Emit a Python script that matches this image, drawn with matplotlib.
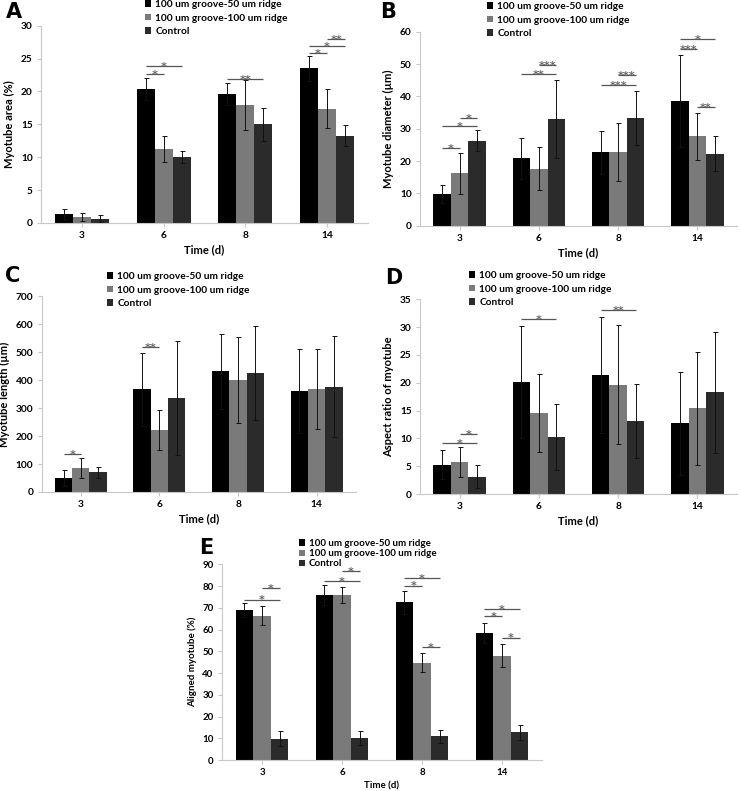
import numpy as np
import matplotlib
matplotlib.use("Agg")
import matplotlib.pyplot as plt

plt.rcParams['font.family'] = ['Lato', 'DejaVu Sans']
plt.rcParams['font.weight'] = 'bold'

days = ['3', '6', '8', '14']
series = ['100 um groove-50 um ridge', '100 um groove-100 um ridge', 'Control']
colors = ['#000000', '#7a7a7a', '#2b2b2b']

# A - myotube area (%)
area_mean = [[1.3, 20.4, 19.6, 23.5], [0.9, 11.3, 17.9, 17.4], [0.66, 10.0, 15.0, 13.25]]
area_err = [[0.8, 1.7, 1.7, 1.9], [0.6, 2.0, 3.8, 2.9], [0.55, 0.9, 2.5, 1.6]]
area_sig = [(1, 0, 1, 22.6, '*'), (1, 0, 2, 23.9, '*'), (2, 0, 2, 21.9, '**'),
            (3, 0, 1, 25.8, '*'), (3, 0, 2, 26.9, '*'), (3, 1, 2, 28.0, '**')]

# B - myotube diameter
diam_mean = [[9.7, 20.8, 22.7, 38.5], [16.2, 17.6, 22.7, 27.6], [26.3, 33.0, 33.4, 22.3]]
diam_err = [[2.8, 6.4, 6.7, 14.3], [6.3, 6.7, 9.0, 7.4], [3.2, 12.2, 8.4, 5.5]]
diam_sig = [(0, 0, 1, 24.0, '*'), (0, 0, 2, 30.8, '*'), (0, 1, 2, 33.4, '*'),
            (1, 0, 2, 46.9, '**'), (1, 1, 2, 49.6, '***'),
            (2, 0, 2, 43.5, '***'), (2, 1, 2, 46.6, '***'),
            (3, 0, 1, 54.7, '***'), (3, 0, 2, 57.7, '*'), (3, 1, 2, 36.6, '**')]

# C - myotube length
len_mean = [[51, 367, 432, 361], [87, 222, 401, 368], [70, 336, 426, 377]]
len_err = [[29, 130, 134, 149], [36, 71, 153, 142], [21, 205, 167, 182]]
len_sig = [(0, 0, 1, 136, '*'), (1, 0, 1, 520, '**')]

# D - aspect ratio
ar_mean = [[5.3, 20.1, 21.4, 12.7], [5.75, 14.5, 19.65, 15.4], [3.1, 10.2, 13.1, 18.3]]
ar_err = [[2.6, 10.1, 10.4, 9.3], [2.65, 7.0, 10.75, 10.1], [2.1, 5.9, 6.6, 10.9]]
ar_sig = [(0, 0, 2, 9.2, '*'), (0, 1, 2, 10.7, '*'), (1, 0, 2, 31.5, '*'), (2, 0, 2, 33.0, '**')]

# E - aligned myotube (%)
al_mean = [[69.0, 75.8, 72.5, 58.4], [66.4, 75.8, 44.8, 48.0], [9.8, 10.1, 11.0, 12.7]]
al_err = [[3.4, 4.7, 5.3, 4.8], [4.3, 3.6, 4.3, 5.2], [3.4, 3.1, 3.0, 3.6]]
al_sig = [(0, 0, 2, 73.8, '*'), (0, 1, 2, 79.0, '*'), (1, 0, 2, 82.1, '*'), (1, 1, 2, 86.8, '*'),
          (2, 0, 1, 80.2, '*'), (2, 0, 2, 83.6, '*'), (2, 1, 2, 52.0, '*'),
          (3, 0, 1, 66.3, '*'), (3, 0, 2, 69.5, '*'), (3, 1, 2, 56.3, '*')]

W, H = 741, 791
fig = plt.figure(figsize=(W / 100, H / 100), dpi=100)
bw = 0.22


def px(l, r, b, t):
    return [l / W, 1 - b / H, (r - l) / W, (b - t) / H]


def panel(box, means, errs, ymax, step, ylabel, sigs, letter, letter_xy, leg_xy,
          fs=7.3, leg_space=0.45, lab_fs=8, leg_fs=7.3):
    ax = fig.add_axes(px(*box))
    x = np.arange(len(days))
    handles = []
    for i in range(3):
        b = ax.bar(x + (i - 1) * bw, means[i], bw, color=colors[i], label=series[i],
                   yerr=errs[i], capsize=1.8,
                   error_kw=dict(elinewidth=0.7, capthick=0.7, ecolor='#111111'))
        handles.append(b)
    for g, i, j, y, s in sigs:
        x1 = g + (i - 1) * bw
        x2 = g + (j - 1) * bw
        ax.plot([x1, x2], [y, y], color='#555555', lw=0.9, solid_capstyle='butt', clip_on=False)
        ax.annotate(s, ((x1 + x2) / 2, y), xytext=(0, -2.8), textcoords='offset points',
                    ha='center', va='baseline', color='#666666', fontsize=8,
                    family='DejaVu Sans', clip_on=False)
    ax.set_xlim(-0.5, 3.5)
    ax.set_ylim(0, ymax)
    ax.set_yticks(np.arange(0, ymax + step / 2, step))
    ax.set_xticks(x)
    ax.set_xticklabels(days)
    for sp in ['top', 'right']:
        ax.spines[sp].set_visible(False)
    for sp in ['left', 'bottom']:
        ax.spines[sp].set_color('#c8c8c8')
        ax.spines[sp].set_linewidth(0.8)
    ax.tick_params(axis='both', colors='#c8c8c8', labelcolor='black', labelsize=fs,
                   length=3, width=0.8, pad=3)
    for t in ax.get_xticklabels() + ax.get_yticklabels():
        t.set_fontweight('bold')
    ax.set_xlabel('Time (d)', fontsize=lab_fs, fontweight='bold', labelpad=3)
    ax.set_ylabel(ylabel, fontsize=lab_fs, fontweight='bold', labelpad=4)
    fig.text(letter_xy[0] / W, 1 - letter_xy[1] / H, letter, fontsize=15,
             fontweight='bold', family='DejaVu Sans', ha='left', va='center')
    ax.legend(handles=handles, loc='upper left', bbox_to_anchor=(leg_xy[0] / W, 1 - leg_xy[1] / H),
              bbox_transform=fig.transFigure, frameon=False,
              handlelength=0.6, handleheight=0.6, handletextpad=0.4, borderpad=0,
              borderaxespad=0, labelspacing=leg_space, prop=dict(weight='bold', size=leg_fs))
    return ax


panel((41, 368, 223, 25.7), area_mean, area_err, 30, 5, 'Myotube area (%)',
      area_sig, 'A', (6, 12), (145, 0))
panel((420, 737, 225.7, 31.7), diam_mean, diam_err, 60, 10, 'Myotube diameter (µm)',
      diam_sig, 'B', (380, 12), (487, 2))
panel((41.5, 356, 492, 296.3), len_mean, len_err, 700, 100, 'Myotube length (µm)',
      len_sig, 'C', (5, 276), (107, 272))
panel((420, 737, 494, 299.3), ar_mean, ar_err, 35, 5, 'Aspect ratio of myotube',
      ar_sig, 'D', (385, 278), (469, 271))
panel((222, 542, 760, 564.3), al_mean, al_err, 90, 10, 'Aligned myotube (%)',
      al_sig, 'E', (199, 548), (299, 539), fs=7, leg_space=0.12, lab_fs=7, leg_fs=7)

fig.savefig('out.png', dpi=100)
